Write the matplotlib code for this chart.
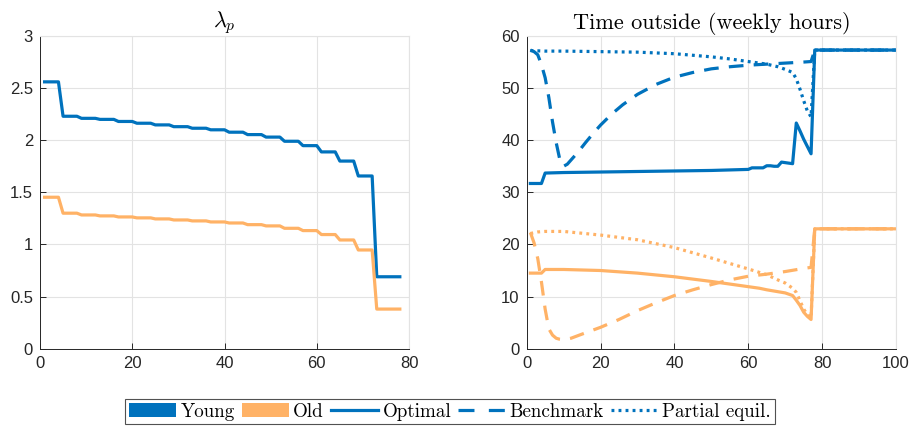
"""
lambda_p and weekly time outside, young vs old
"""

import numpy as np
import matplotlib
matplotlib.use("Agg")
import matplotlib.pyplot as plt
from matplotlib.patches import Patch
from matplotlib.lines import Line2D

BLUE = "#0072BD"
ORANGE = "#FFB266"
INK = "#262626"
GRIDC = "#e3e3e3"

# left panel: lambda_p, step levels (each level held 4 ages, last one 6)
ages = np.arange(1, 79)
young_levels = [2.56, 2.23, 2.21, 2.20, 2.18, 2.163, 2.147, 2.13, 2.115, 2.10,
                2.077, 2.054, 2.03, 1.99, 1.948, 1.888, 1.80, 1.657, 0.69]
old_levels = [1.453, 1.30, 1.283, 1.274, 1.264, 1.255, 1.245, 1.235, 1.226, 1.216,
              1.206, 1.19, 1.178, 1.155, 1.133, 1.095, 1.043, 0.947, 0.38]
level_len = [4] * 18 + [6]
lam_young = np.repeat(young_levels, level_len)
lam_old = np.repeat(old_levels, level_len)

# right panel: time outside (weekly hours)
x_yo = [1, 4, 5, 10, 20, 30, 40, 50, 60, 61, 64, 65, 66, 67, 68, 69, 72,
        73, 74, 75, 76, 77, 78, 100]
y_yo = [31.7, 31.7, 33.7, 33.8, 33.9, 34.0, 34.1, 34.2, 34.4, 34.7, 34.7, 35.1,
        35.1, 35.0, 35.0, 35.8, 35.5, 43.3, 41.8, 40.2, 38.8, 37.4, 57.3, 57.3]

x_yb = [1, 2, 3, 4, 5, 6, 7, 8, 9, 10, 11, 12, 14, 16, 18, 20, 23, 26, 30, 35,
        40, 45, 50, 55, 60, 65, 70, 75, 77, 78, 100]
y_yb = [57.3, 57.0, 56.4, 54.5, 52.0, 48.2, 43.5, 39.5, 36.2, 35.0, 35.4, 36.2,
        37.8, 39.6, 41.3, 42.9, 45.0, 46.8, 48.8, 50.7, 52.1, 53.0, 53.7, 54.1,
        54.4, 54.6, 54.8, 55.0, 55.1, 57.3, 57.3]

x_yp = [1, 5, 10, 20, 30, 40, 50, 55, 60, 65, 68, 70, 72, 73, 74, 75, 76, 77, 78, 100]
y_yp = [57.2, 57.1, 57.1, 57.0, 56.9, 56.6, 56.0, 55.6, 55.1, 54.6, 54.1, 53.6,
        53.0, 51.8, 49.8, 47.6, 45.6, 44.5, 57.3, 57.3]

x_oo = [1, 4, 5, 10, 20, 30, 40, 50, 60, 63, 65, 70, 72, 73, 74, 75, 76, 77, 78, 100]
y_oo = [14.5, 14.5, 15.2, 15.2, 15.0, 14.5, 13.8, 12.9, 11.9, 11.6, 11.3, 10.7,
        10.2, 9.3, 8.3, 7.0, 6.2, 5.6, 23.0, 23.0]

x_ob = [1, 2, 3, 4, 5, 6, 7, 8, 9, 10, 12, 15, 20, 25, 30, 35, 40, 45, 50, 55,
        60, 65, 70, 75, 77, 78, 100]
y_ob = [22.3, 20.3, 17.3, 12.8, 7.6, 3.8, 2.6, 2.0, 1.8, 1.7, 2.0, 2.8, 4.1, 5.6,
        7.3, 8.8, 10.2, 11.3, 12.3, 13.2, 13.9, 14.3, 14.8, 15.4, 15.6, 23.0, 23.0]

x_op = [1, 3, 5, 10, 20, 30, 40, 50, 60, 65, 68, 70, 72, 73, 74, 75, 76, 77, 78, 100]
y_op = [22.1, 22.4, 22.5, 22.5, 21.8, 20.9, 19.4, 17.4, 15.3, 14.2, 13.2, 12.6,
        11.6, 10.8, 9.2, 7.6, 6.5, 5.9, 23.0, 23.0]

LW = 2.3
DASH = (4.6, 3.2)
DOT = (0.9, 1.3)

plt.rcParams["font.family"] = ["Liberation Sans", "DejaVu Sans"]
plt.rcParams["axes.unicode_minus"] = False
plt.rcParams["mathtext.fontset"] = "cm"


def style_axes(ax):
    """matlab-ish look"""
    ax.grid(True, color=GRIDC, linewidth=0.8)
    ax.set_axisbelow(True)
    for side in ["left", "bottom"]:
        ax.spines[side].set_color(INK)
        ax.spines[side].set_linewidth(0.7)
    for side in ["top", "right"]:
        ax.spines[side].set_color(GRIDC)
        ax.spines[side].set_linewidth(0.8)
    ax.tick_params(direction="in", length=4, width=0.7, colors=INK,
                   labelsize=12, top=False, right=False, pad=5)


fig = plt.figure(figsize=(9.09, 4.26), dpi=100)
ax1 = fig.add_axes([0.044, 0.1815, 0.406, 0.734])
ax2 = fig.add_axes([0.5794, 0.1815, 0.4063, 0.734])

ax1.plot(ages, lam_young, color=BLUE, lw=LW)
ax1.plot(ages, lam_old, color=ORANGE, lw=LW)
ax1.set_xlim(0, 80)
ax1.set_ylim(0, 3)
ax1.set_xticks([0, 20, 40, 60, 80])
ax1.set_yticks([0, 0.5, 1, 1.5, 2, 2.5, 3])
ax1.set_yticklabels(["0", "0.5", "1", "1.5", "2", "2.5", "3"])
ax1.set_title(r"$\lambda_p$", fontsize=16, pad=5)
style_axes(ax1)

ax2.plot(x_yo, y_yo, color=BLUE, lw=LW)
ax2.plot(x_yb, y_yb, color=BLUE, lw=LW, dashes=DASH)
ax2.plot(x_yp, y_yp, color=BLUE, lw=LW, dashes=DOT)
ax2.plot(x_oo, y_oo, color=ORANGE, lw=LW)
ax2.plot(x_ob, y_ob, color=ORANGE, lw=LW, dashes=DASH)
ax2.plot(x_op, y_op, color=ORANGE, lw=LW, dashes=DOT)
ax2.set_xlim(0, 100)
ax2.set_ylim(0, 60)
ax2.set_xticks([0, 20, 40, 60, 80, 100])
ax2.set_yticks([0, 10, 20, 30, 40, 50, 60])
ax2.set_title("Time outside (weekly hours)", fontsize=16, family="cmr10", pad=5)
style_axes(ax2)

handles = [
    Patch(facecolor=BLUE, edgecolor="none"),
    Patch(facecolor=ORANGE, edgecolor="none"),
    Line2D([], [], color=BLUE, lw=LW),
    Line2D([], [], color=BLUE, lw=LW, dashes=(5.0, 4.5)),
    Line2D([], [], color=BLUE, lw=LW, dashes=DOT),
]
labels = ["Young", "Old", "Optimal", "Benchmark", "Partial equil."]
leg = fig.legend(handles, labels, loc="center", bbox_to_anchor=(0.495, 0.0336),
                 ncol=5, prop={"family": "cmr10", "size": 13.7}, frameon=True,
                 fancybox=False, edgecolor=INK, handlelength=2.5,
                 handleheight=0.8, handletextpad=0.22, columnspacing=0.35,
                 borderpad=0.2, borderaxespad=0.2)
leg.get_frame().set_linewidth(0.8)

fig.savefig("out.png", dpi=100)
